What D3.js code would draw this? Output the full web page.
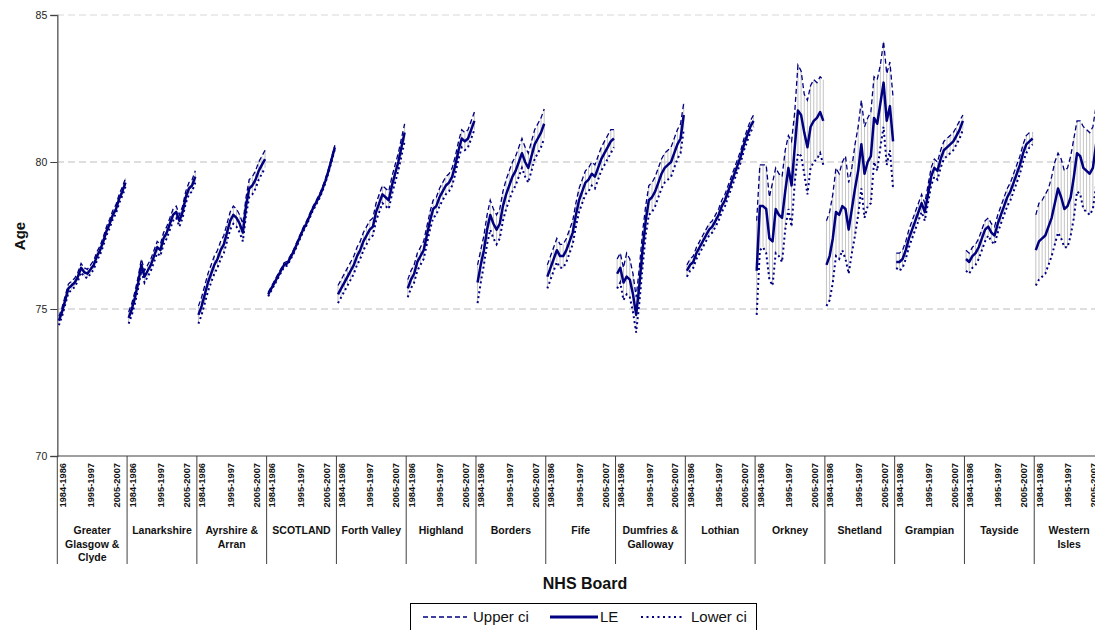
<!DOCTYPE html>
<html><head><meta charset="utf-8">
<script src="https://cdn.jsdelivr.net/npm/d3@7"></script>
<style>body{margin:0;background:#fff}svg{display:block;font-family:Arial,"Liberation Sans",sans-serif}</style>
</head><body><svg id="c" width="1095" height="630"></svg>
<script>
const boards = ["Greater Glasgow & Clyde","Lanarkshire","Ayrshire & Arran","SCOTLAND","Forth Valley","Highland","Borders","Fife","Dumfries & Galloway","Lothian","Orkney","Shetland","Grampian","Tayside","Western Isles"];
const boardLines = [["Greater","Glasgow &","Clyde"],["Lanarkshire"],["Ayrshire &","Arran"],["SCOTLAND"],["Forth Valley"],["Highland"],["Borders"],["Fife"],["Dumfries &","Galloway"],["Lothian"],["Orkney"],["Shetland"],["Grampian"],["Tayside"],["Western","Isles"]];
const periods = ["1984-1986","1985-1987","1986-1988","1987-1989","1988-1990","1989-1991","1990-1992","1991-1993","1992-1994","1993-1995","1994-1996","1995-1997","1996-1998","1997-1999","1998-2000","1999-2001","2000-2002","2001-2003","2002-2004","2003-2005","2004-2006","2005-2007"];
const shownPeriods = ["1984-1986","1995-1997","2005-2007"];
const yTicks = [70,75,80,85];

const LE = [
[74.6,74.9,75.3,75.7,75.8,75.9,76.1,76.4,76.25,76.2,76.35,76.5,76.8,77.0,77.3,77.65,77.9,78.2,78.4,78.75,79.0,79.3],
[74.7,75.0,75.4,75.9,76.5,76.1,76.3,76.5,76.8,77.1,77.0,77.4,77.6,77.9,78.2,78.3,78.0,78.3,78.8,79.1,79.2,79.5],
[74.8,75.1,75.5,75.9,76.2,76.5,76.7,77.0,77.2,77.6,78.0,78.2,78.1,77.9,77.6,78.5,79.1,79.2,79.4,79.7,79.9,80.1],
[75.5,75.7,75.9,76.1,76.3,76.5,76.55,76.75,76.95,77.2,77.45,77.7,77.9,78.15,78.4,78.6,78.8,79.05,79.35,79.7,80.1,80.5],
[75.5,75.7,75.9,76.1,76.3,76.5,76.8,77.0,77.3,77.5,77.7,77.8,78.3,78.6,78.9,78.8,78.7,79.2,79.6,80.0,80.5,81.0],
[75.7,76.0,76.2,76.6,76.8,77.0,77.5,78.0,78.4,78.5,78.8,79.0,79.2,79.3,79.5,79.9,80.4,80.8,80.7,80.8,81.1,81.4],
[75.9,76.5,77.0,77.7,78.2,77.9,77.7,77.9,78.5,78.9,79.2,79.5,79.7,80.0,80.3,80.0,79.8,80.2,80.6,80.8,81.0,81.3],
[76.1,76.4,76.7,77.0,76.8,76.8,77.0,77.3,77.6,78.2,78.7,79.0,79.3,79.4,79.6,79.5,79.8,80.1,80.3,80.5,80.7,80.8],
[76.2,76.4,75.9,76.1,76.0,75.5,74.8,75.8,77.0,78.0,78.7,78.8,79.0,79.3,79.6,79.8,79.9,80.0,80.3,80.6,80.8,81.6],
[76.3,76.5,76.6,76.9,77.1,77.3,77.5,77.7,77.8,78.0,78.2,78.5,78.7,79.0,79.3,79.6,79.9,80.2,80.6,80.9,81.2,81.4],
[76.3,78.5,78.5,78.4,77.4,77.3,78.4,78.2,78.1,79.0,79.8,79.2,80.5,81.75,81.6,81.0,80.5,81.2,81.4,81.5,81.7,81.4],
[76.5,76.8,77.4,78.3,78.2,78.5,78.4,77.7,78.4,79.1,79.7,80.6,79.6,80.0,80.2,81.5,81.3,82.0,82.7,81.4,81.9,80.7],
[76.6,76.6,76.7,77.0,77.4,77.7,78.0,78.3,78.6,78.3,78.9,79.5,79.8,79.7,80.1,80.4,80.5,80.6,80.7,80.9,81.1,81.4],
[76.7,76.6,76.8,76.9,77.1,77.4,77.7,77.8,77.6,77.5,77.9,78.2,78.5,78.8,79.0,79.3,79.6,79.9,80.3,80.6,80.7,80.8],
[77.0,77.3,77.4,77.5,77.8,78.1,78.6,79.1,78.8,78.4,78.5,78.8,79.5,80.3,80.2,79.8,79.7,79.6,79.8,80.6,81.3,81.8]
];
const upperCI = [
[74.75,75.05,75.45,75.85,75.95,76.05,76.25,76.55,76.4,76.35,76.5,76.65,76.95,77.15,77.45,77.8,78.05,78.35,78.55,78.9,79.15,79.45],
[74.9,75.2,75.6,76.1,76.7,76.3,76.5,76.7,77.0,77.3,77.2,77.6,77.8,78.1,78.4,78.5,78.2,78.5,79.0,79.3,79.4,79.7],
[75.1,75.4,75.8,76.2,76.5,76.8,77.0,77.3,77.5,77.9,78.3,78.5,78.4,78.2,77.9,78.8,79.4,79.5,79.7,80.0,80.2,80.4],
[75.57,75.77,75.97,76.17,76.37,76.57,76.62,76.82,77.02,77.27,77.52,77.77,77.97,78.22,78.47,78.67,78.87,79.12,79.42,79.77,80.17,80.57],
[75.8,76.0,76.2,76.4,76.6,76.8,77.1,77.3,77.6,77.8,78.0,78.1,78.6,78.9,79.2,79.1,79.0,79.5,79.9,80.3,80.8,81.3],
[76.0,76.3,76.5,76.9,77.1,77.3,77.8,78.3,78.7,78.8,79.1,79.3,79.5,79.6,79.8,80.2,80.7,81.1,81.0,81.1,81.4,81.7],
[76.5,77.0,77.5,78.2,78.7,78.4,78.2,78.4,79.0,79.4,79.7,80.0,80.2,80.5,80.8,80.5,80.3,80.7,81.1,81.3,81.5,81.8],
[76.5,76.8,77.1,77.4,77.2,77.2,77.4,77.7,78.0,78.6,79.1,79.4,79.7,79.8,80.0,79.9,80.2,80.5,80.7,80.9,81.1,81.1],
[76.7,76.9,76.4,76.9,76.7,76.2,75.4,76.4,77.6,78.5,79.2,79.3,79.5,79.8,80.1,80.3,80.4,80.5,80.8,81.1,81.3,82.0],
[76.5,76.7,76.8,77.1,77.3,77.5,77.7,77.9,78.0,78.2,78.4,78.7,78.9,79.2,79.5,79.8,80.1,80.4,80.8,81.1,81.4,81.6],
[78.0,79.9,79.9,79.9,78.8,79.3,79.8,79.6,79.5,80.4,80.9,80.7,81.7,83.3,83.1,82.3,82.1,82.6,82.8,82.7,82.9,82.8],
[78.0,78.3,78.9,79.8,79.6,80.0,80.2,79.3,79.8,80.6,81.2,82.1,81.2,81.5,81.7,82.9,82.8,83.3,84.1,83.0,83.4,82.2],
[76.9,76.9,77.0,77.3,77.7,78.0,78.3,78.6,78.9,78.6,79.2,79.8,80.1,80.0,80.4,80.7,80.8,80.9,81.0,81.2,81.4,81.6],
[77.0,76.9,77.1,77.2,77.4,77.7,78.0,78.1,77.9,77.8,78.2,78.5,78.8,79.1,79.3,79.6,79.9,80.2,80.6,80.9,81.0,81.0],
[78.2,78.6,78.7,78.9,79.1,79.5,80.0,80.3,80.1,79.7,79.8,80.2,80.8,81.4,81.4,81.2,81.1,81.0,81.2,81.9,82.6,83.0]
];
const lowerCI = [
[74.45,74.75,75.15,75.55,75.65,75.75,75.95,76.25,76.1,76.05,76.2,76.35,76.65,76.85,77.15,77.5,77.75,78.05,78.25,78.6,78.85,79.15],
[74.5,74.8,75.2,75.7,76.3,75.9,76.1,76.3,76.6,76.9,76.8,77.2,77.4,77.7,78.0,78.1,77.8,78.1,78.6,78.9,79.0,79.3],
[74.5,74.8,75.2,75.6,75.9,76.2,76.4,76.7,76.9,77.3,77.7,77.9,77.8,77.6,77.3,78.2,78.8,78.9,79.1,79.4,79.6,79.8],
[75.43,75.63,75.83,76.03,76.23,76.43,76.48,76.68,76.88,77.13,77.38,77.63,77.83,78.08,78.33,78.53,78.73,78.98,79.28,79.63,80.03,80.43],
[75.2,75.4,75.6,75.8,76.0,76.2,76.5,76.7,77.0,77.2,77.4,77.5,78.0,78.3,78.6,78.5,78.4,78.9,79.3,79.7,80.2,80.7],
[75.4,75.7,75.9,76.3,76.5,76.7,77.2,77.7,78.1,78.2,78.5,78.7,78.9,79.0,79.2,79.6,80.1,80.5,80.4,80.5,80.8,81.1],
[75.2,75.9,76.5,77.2,77.7,77.4,77.2,77.4,78.0,78.4,78.7,79.0,79.2,79.5,79.8,79.5,79.3,79.7,80.1,80.3,80.5,80.8],
[75.7,76.0,76.3,76.6,76.4,76.4,76.6,76.9,77.2,77.8,78.3,78.6,78.9,79.0,79.2,79.1,79.4,79.7,79.9,80.1,80.3,80.5],
[75.7,75.9,75.3,75.5,75.4,74.9,74.2,75.2,76.4,77.5,78.2,78.3,78.5,78.8,79.1,79.3,79.4,79.5,79.8,80.1,80.3,81.1],
[76.1,76.3,76.4,76.7,76.9,77.1,77.3,77.5,77.6,77.8,78.0,78.3,78.5,78.8,79.1,79.4,79.7,80.0,80.4,80.7,81.0,81.2],
[74.8,77.0,77.1,76.9,76.0,75.8,76.9,76.8,76.6,77.7,78.4,77.8,79.3,80.3,80.2,79.6,78.9,79.8,80.0,80.1,80.3,79.9],
[75.1,75.3,75.9,76.8,76.7,77.0,76.7,76.2,76.9,77.5,78.2,79.1,78.1,78.5,78.6,80.0,79.7,80.5,81.2,79.9,80.4,79.1],
[76.4,76.3,76.4,76.7,77.1,77.4,77.7,78.0,78.3,78.0,78.6,79.2,79.5,79.4,79.8,80.1,80.2,80.3,80.4,80.6,80.8,81.1],
[76.3,76.2,76.4,76.5,76.7,77.0,77.3,77.5,77.3,77.2,77.6,77.9,78.2,78.5,78.7,79.0,79.3,79.6,80.0,80.3,80.5,80.6],
[75.8,76.0,76.1,76.2,76.5,76.8,77.2,77.6,77.4,77.1,77.1,77.5,78.1,79.0,78.9,78.4,78.3,78.2,78.4,79.2,80.0,80.5]
];

const svg = d3.select("#c");
const navy = "#000080";
const xG = d3.scaleBand().domain(boards).range([57.3, 1104]).padding(0);
const xP = d3.scaleBand().domain(periods).range([0, xG.bandwidth()]).padding(0);
const xL = d3.scalePoint().domain(periods).range([6, 60.5]);
const y = d3.scaleLinear().domain([70, 85]).range([456, 15]);
const px = (b, p) => xG(b) + xP(p) + xP.bandwidth() / 2;

// gridlines
svg.append("g").selectAll("line").data(yTicks.filter(t => t > 70)).join("line")
  .attr("x1", 57).attr("x2", 1095).attr("y1", d => y(d)).attr("y2", d => y(d))
  .attr("stroke", d => d === 85 ? "#d8d8d8" : "#bdbdbd").attr("stroke-width", 1)
  .attr("stroke-dasharray", "7,4");

// y axis
const yAxis = svg.append("g").attr("transform", "translate(57.3,0)")
  .call(d3.axisLeft(y).tickValues(yTicks).tickSize(7).tickPadding(3).tickFormat(d3.format("d")));
yAxis.select(".domain").attr("stroke", "#707070").attr("stroke-width", 1.6);
yAxis.selectAll(".tick line").attr("stroke", "#404040");
yAxis.selectAll(".tick text").attr("font-size", 10.5).attr("fill", "#222").attr("font-family", "Arial, Liberation Sans, sans-serif");

// x axis line
svg.append("line").attr("x1", 57.3).attr("x2", 1104).attr("y1", y(70)).attr("y2", y(70))
  .attr("stroke", "#404040").attr("stroke-width", 1.2);

// group dividers
const divs = boards.map(b => xG(b)).concat([xG.range()[1]]);
svg.append("g").selectAll("line").data(divs).join("line")
  .attr("x1", d => d).attr("x2", d => d).attr("y1", y(70)).attr("y2", 564)
  .attr("stroke", "#404040").attr("stroke-width", 1);

// category labels
boards.forEach(b => {
  svg.append("g").selectAll("text").data(shownPeriods).join("text")
    .attr("transform", p => `translate(${xG(b) + xL(p)},463) rotate(-90)`)
    .attr("text-anchor", "end").attr("dominant-baseline", "middle")
    .attr("font-size", 9.3).attr("font-weight", "bold").attr("fill", "#111")
    .text(p => p);
});

// board labels
boards.forEach((b, i) => {
  const t = svg.append("text").attr("text-anchor", "middle")
    .attr("font-size", 10.5).attr("font-weight", "bold").attr("fill", "#111");
  boardLines[i].forEach((ln, j) => {
    t.append("tspan").attr("x", xG(b) + xG.bandwidth() / 2).attr("y", 534 + j * 13.5).text(ln);
  });
});

// hi-low lines
boards.forEach((b, i) => {
  svg.append("g").selectAll("line").data(periods).join("line")
    .attr("x1", p => px(b, p)).attr("x2", p => px(b, p))
    .attr("y1", (p, k) => y(upperCI[i][k])).attr("y2", (p, k) => y(lowerCI[i][k]))
    .attr("stroke", "#c4c4c4").attr("stroke-width", 1);
});

const line = b => d3.line().x((d, k) => px(b, periods[k])).y(d => y(d));
boards.forEach((b, i) => {
  svg.append("path").attr("d", line(b)(upperCI[i])).attr("fill", "none")
    .attr("stroke", navy).attr("stroke-width", 1.3).attr("stroke-dasharray", "5,3");
  svg.append("path").attr("d", line(b)(lowerCI[i])).attr("fill", "none")
    .attr("stroke", navy).attr("stroke-width", 2).attr("stroke-dasharray", "2,3");
  svg.append("path").attr("d", line(b)(LE[i])).attr("fill", "none")
    .attr("stroke", navy).attr("stroke-width", 2.5).attr("stroke-linejoin", "round");
});

// axis titles
svg.append("text").attr("transform", "translate(25,236) rotate(-90)").attr("text-anchor", "middle")
  .attr("font-size", 15).attr("font-weight", "bold").attr("fill", "#111").text("Age");
svg.append("text").attr("x", 585).attr("y", 589).attr("text-anchor", "middle")
  .attr("font-size", 16).attr("font-weight", "bold").attr("fill", "#111").text("NHS Board");

// legend
const lg = svg.append("g");
lg.append("rect").attr("x", 410.5).attr("y", 603.5).attr("width", 346).attr("height", 40)
  .attr("fill", "#fff").attr("stroke", "#000").attr("stroke-width", 1);
const legendItems = [
  {name: "Upper ci", x1: 423, x2: 467, tx: 473, w: 1.6, dash: "5,3"},
  {name: "LE", x1: 550, x2: 598, tx: 600, w: 3, dash: null},
  {name: "Lower ci", x1: 641, x2: 682, tx: 691, w: 2, dash: "2,3.5"}
];
legendItems.forEach(it => {
  lg.append("line").attr("x1", it.x1).attr("x2", it.x2).attr("y1", 617).attr("y2", 617)
    .attr("stroke", navy).attr("stroke-width", it.w).attr("stroke-dasharray", it.dash);
  lg.append("text").attr("x", it.tx).attr("y", 622).attr("font-size", 15).attr("fill", "#111").text(it.name);
});
</script></body></html>
